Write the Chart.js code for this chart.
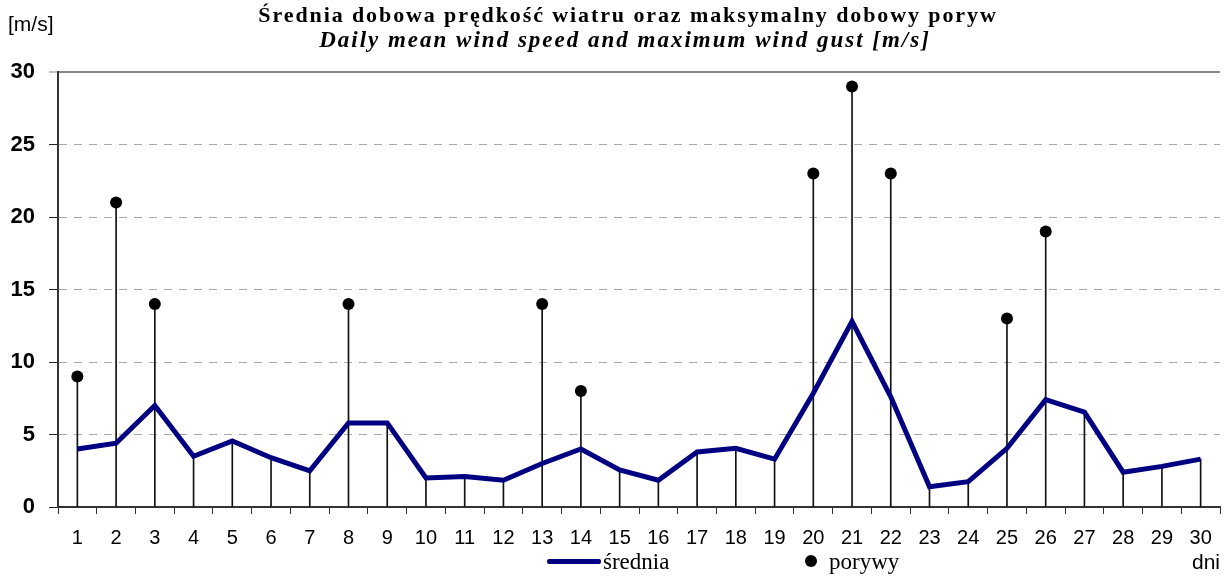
<!DOCTYPE html>
<html>
<head>
<meta charset="utf-8">
<script src="https://cdn.jsdelivr.net/npm/chart.js@4/dist/chart.umd.min.js"></script>
<style>
  html,body{margin:0;padding:0;overflow:hidden;background:#fff;width:1224px;height:577px;}
  #wrap{position:relative;width:1226px;height:577px;}
  canvas{position:absolute;left:0;top:0;}
  .t{position:absolute;white-space:nowrap;line-height:1;color:#000;}
  #title{left:0;width:1256px;text-align:center;top:2px;font:bold 22px 'Liberation Serif',serif;letter-spacing:1.9px;}
  #subtitle{left:0;width:1250px;text-align:center;top:27px;font:italic bold 23px 'Liberation Serif',serif;letter-spacing:2px;}
  #unit{left:8px;top:12px;font:21px 'Liberation Sans',Arial,sans-serif;}
  #dni{left:1192px;top:550px;font:21px 'Liberation Sans',Arial,sans-serif;}
  .lg{font:23px 'Liberation Serif',serif;}
  #lgLine{position:absolute;left:547px;top:559px;width:54px;height:5px;background:#000080;border-radius:2px;}
  #lgDot{position:absolute;left:805px;top:555px;width:12px;height:12px;border-radius:6px;background:#000;}
</style>
</head>
<body>
<div id="wrap">
  <canvas id="windChart" width="1226" height="577"></canvas>
  <div class="t" id="title">Średnia dobowa prędkość wiatru oraz maksymalny dobowy poryw</div>
  <div class="t" id="subtitle">Daily mean wind speed and maximum wind gust [m/s]</div>
  <div class="t" id="unit">[m/s]</div>
  <div class="t" id="dni">dni</div>
  <div id="lgLine"></div>
  <div class="t lg" style="left:603px;top:549px;">średnia</div>
  <div id="lgDot"></div>
  <div class="t lg" style="left:829px;top:549px;">porywy</div>
</div>
<script>
const days = ['1','2','3','4','5','6','7','8','9','10','11','12','13','14','15',
  '16','17','18','19','20','21','22','23','24','25','26','27','28','29','30'];

// daily mean wind speed [m/s]
const meanSpeed = [4.0, 4.4, 7.0, 3.5, 4.55, 3.4, 2.5, 5.8, 5.8, 2.0,
  2.1, 1.85, 3.0, 4.0, 2.55, 1.85, 3.8, 4.05, 3.3, 7.85,
  12.8, 7.6, 1.4, 1.75, 4.05, 7.4, 6.55, 2.4, 2.8, 3.3];

// max daily gust [m/s], null = no gust reported
const gusts = [9, 21, 14, null, null, null, null, 14, null, null,
  null, null, 14, 8, null, null, null, null, null, 23,
  29, 23, null, null, 13, 19, null, null, null, null];

const yTicks = [0, 5, 10, 15, 20, 25, 30];

// drop lines go up to the gust dot, or to the mean line when there is no gust
const stems = gusts.map((g, i) => g !== null ? g : meanSpeed[i]);

const ctx = document.getElementById('windChart').getContext('2d');
new Chart(ctx, {
  data: {
    labels: days,
    datasets: [
      {type:'line', label:'porywy', data:gusts, showLine:false, order:0,
       pointRadius:6, pointHoverRadius:6, pointBackgroundColor:'#000', pointBorderColor:'#000', pointBorderWidth:0},
      {type:'line', label:'średnia', data:meanSpeed, order:1,
       borderColor:'#000080', borderWidth:5, pointRadius:0, tension:0, borderJoinStyle:'miter'},
      {type:'bar', label:'stems', data:stems, order:2,
       backgroundColor:'#111', barThickness:1}
    ]
  },
  options: {
    responsive:false,
    animation:false,
    layout:{padding:{top:72, left:8, right:0, bottom:24}},
    plugins:{legend:{display:false}, tooltip:{enabled:false}},
    scales:{
      x:{
        type:'category', offset:true,
        grid:{drawOnChartArea:false, drawTicks:true, tickLength:7, offset:true, tickColor:'#333', tickWidth:1},
        border:{display:true, color:'#333', width:2},
        ticks:{color:'#000', padding:12, maxRotation:0, autoSkip:false,
               font:{family:"'Liberation Sans', Arial, sans-serif", size:20}},
        afterFit: s => { s.height = 46; }
      },
      y:{
        min:0, max:30,
        afterBuildTicks: s => { s.ticks = yTicks.map(v => ({value:v})); },
        grid:{
          color: c => c.tick.value === 0 ? 'rgba(0,0,0,0)' : (c.tick.value === 30 ? '#888' : '#aaa'),
          lineWidth: c => c.tick.value === 30 ? 2 : 1,
          tickColor: c => c.tick.value === 30 ? '#888' : '#222',
          tickLength:9, tickWidth:1, tickBorderDash:[]
        },
        border:{display:true, color:'#333', width:2,
                dash: c => (c.tick && c.tick.value !== 30) ? [8,7] : []},
        ticks:{color:'#000', padding:14,
               font:{family:"'Liberation Sans', Arial, sans-serif", size:22, weight:'bold'}},
        afterFit: s => { s.width = 50; }
      }
    }
  }
});
</script>
</body>
</html>
